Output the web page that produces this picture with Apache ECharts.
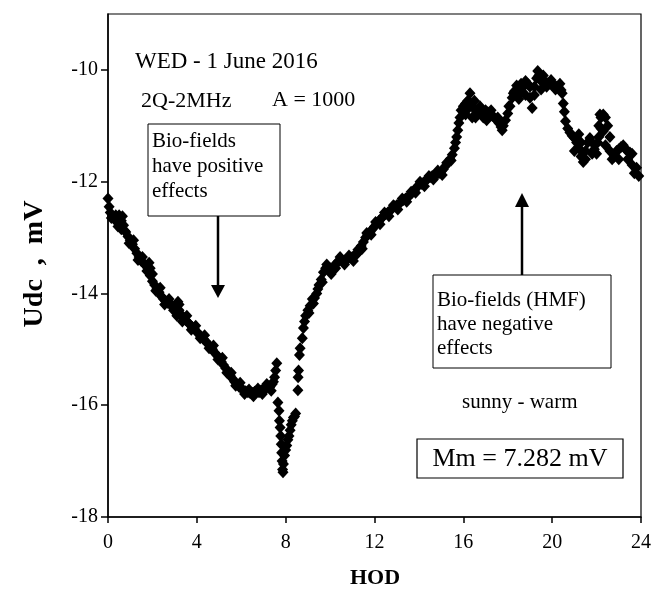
<!DOCTYPE html>
<html>
<head>
<meta charset="utf-8">
<script src="https://cdn.jsdelivr.net/npm/echarts@6/dist/echarts.min.js"></script>
<style>html,body{margin:0;padding:0;background:#fff}#c{width:671px;height:596px}</style>
</head>
<body>
<div id="c"></div>
<script>
// Hour of day (HOD) and Udc (mV) readings
var hod = [
0.0,0.05,0.1,0.2,0.3,0.4,0.5,0.5,0.6,0.6,0.7,0.8,0.9,1.0,1.1,1.2,1.3,1.4,1.5,1.6,1.7,1.8,1.9,1.9,2.0,2.0,2.1,2.2,2.3,2.4,2.5,2.6,2.7,2.8,2.9,3.0,3.1,3.1,3.2,3.2,3.3,3.4,3.5,3.6,3.7,3.8,3.9,
4.0,4.1,4.2,4.3,4.4,4.5,4.6,4.7,4.8,4.9,5.0,5.1,5.2,5.3,5.4,5.5,5.6,5.7,5.8,5.9,6.0,6.1,6.2,6.3,6.4,6.5,6.6,6.7,6.8,6.9,7.0,7.1,7.2,7.3,7.4,7.45,7.5,7.55,7.6,
7.65,7.7,7.72,7.75,7.78,7.8,7.82,7.84,7.86,7.88,7.9,7.95,8.0,8.05,8.1,8.15,8.2,8.25,8.3,8.35,8.4,8.45,
8.55,8.56,8.58,8.62,8.65,8.75,8.8,8.85,8.9,9.0,9.1,9.2,9.3,9.4,9.5,9.6,9.7,9.8,9.9,10.0,10.1,10.2,10.3,10.4,10.5,10.6,10.7,10.8,10.9,11.0,11.1,11.2,11.3,11.4,11.5,11.6,11.7,11.8,11.9,
12.0,12.1,12.2,12.3,12.4,12.5,12.6,12.7,12.8,12.9,13.0,13.1,13.2,13.3,13.4,13.5,13.6,13.7,13.8,13.9,14.0,14.1,14.2,14.3,14.4,14.5,14.6,14.7,14.8,14.9,15.0,15.1,15.2,15.3,15.4,15.5,
15.6,15.65,15.7,15.75,15.8,15.85,15.9,16.0,16.1,16.1,16.2,16.2,16.3,16.35,16.4,16.4,16.5,16.5,16.6,16.7,16.8,16.9,16.9,17.0,17.0,17.1,17.2,17.3,17.4,17.5,17.6,17.7,17.8,17.9,
18.0,18.1,18.2,18.3,18.4,18.5,18.5,18.6,18.6,18.7,18.8,18.8,18.9,19.0,19.0,19.1,19.2,19.2,19.3,19.35,19.4,19.5,19.5,19.6,19.6,19.7,19.8,19.9,20.0,20.1,20.2,20.3,20.4,20.45,
20.5,20.55,20.6,20.7,20.8,20.9,21.0,21.0,21.1,21.2,21.2,21.3,21.3,21.4,21.5,21.5,21.6,21.7,21.8,21.8,21.9,22.0,22.05,22.1,22.1,22.15,22.2,22.2,22.3,22.3,22.4,22.4,22.5,22.6,22.6,22.7,
22.8,22.9,23.0,23.0,23.1,23.2,23.3,23.4,23.4,23.5,23.6,23.6,23.7,23.8,23.9,
0.15,0.35,0.45,0.65,0.75,0.95,1.15,1.35,1.55,1.75,1.85,2.15,2.35,2.55,2.75,2.95,3.15,3.35,3.55,3.75,3.95,4.15,4.35,4.55,4.75,4.95,5.15,5.35,5.55,5.75,5.95,6.15,6.35,6.55,6.75,6.95,7.15,7.35,
9.05,9.25,9.45,9.65,9.85,10.05,10.25,10.45,10.65,10.85,11.05,11.25,11.45,11.65,11.85,12.05,12.25,12.45,12.65,12.85,13.05,13.25,13.45,13.65,13.85,14.05,14.25,14.45,14.65,14.85,15.05,15.25,15.45,
16.55,16.75,17.05,17.25,17.55,17.75,18.05,18.25,18.45,19.75,19.95,20.15,20.35
];
var udc = [
-12.30,-12.45,-12.55,-12.62,-12.68,-12.70,-12.72,-12.60,-12.70,-12.85,-12.78,-12.90,-12.98,-13.05,-13.12,-13.20,-13.28,-13.35,-13.42,-13.46,-13.50,-13.55,-13.68,-13.55,-13.78,-13.65,-13.85,-13.92,-13.98,-14.05,-14.10,-14.14,-14.17,-14.20,-14.22,-14.25,-14.24,-14.40,-14.30,-14.20,-14.38,-14.43,-14.48,-14.52,-14.56,-14.60,-14.64,
-14.69,-14.73,-14.77,-14.82,-14.86,-14.90,-14.95,-15.00,-15.06,-15.10,-15.15,-15.22,-15.28,-15.34,-15.40,-15.47,-15.52,-15.58,-15.62,-15.67,-15.70,-15.73,-15.75,-15.77,-15.78,-15.78,-15.76,-15.75,-15.77,-15.73,-15.72,-15.70,-15.68,-15.67,-15.62,-15.58,-15.50,-15.38,-15.25,
-15.95,-16.10,-16.28,-16.40,-16.55,-16.70,-16.85,-17.00,-17.15,-17.20,-17.05,-16.90,-16.80,-16.72,-16.62,-16.55,-16.45,-16.35,-16.28,-16.22,-16.20,-16.15,
-15.73,-15.50,-15.38,-15.10,-14.98,-14.80,-14.62,-14.50,-14.40,-14.30,-14.22,-14.10,-14.08,-14.00,-13.85,-13.75,-13.62,-13.55,-13.52,-13.55,-13.60,-13.50,-13.45,-13.42,-13.40,-13.42,-13.40,-13.38,-13.36,-13.35,-13.32,-13.30,-13.25,-13.15,-13.08,-13.00,-12.95,-12.90,-12.85,
-12.80,-12.74,-12.70,-12.66,-12.62,-12.58,-12.55,-12.52,-12.48,-12.44,-12.42,-12.40,-12.36,-12.33,-12.30,-12.28,-12.24,-12.20,-12.15,-12.10,-12.06,-12.04,-12.02,-11.98,-11.95,-11.92,-11.90,-11.88,-11.86,-11.85,-11.82,-11.78,-11.72,-11.66,-11.60,-11.52,
-11.40,-11.30,-11.20,-11.08,-10.95,-10.85,-10.72,-10.65,-10.60,-10.80,-10.55,-10.70,-10.42,-10.60,-10.65,-10.85,-10.70,-10.55,-10.72,-10.75,-10.72,-10.75,-10.85,-10.78,-10.72,-10.76,-10.80,-10.82,-10.85,-10.90,-10.95,-11.02,-11.00,-10.90,
-10.78,-10.65,-10.50,-10.38,-10.28,-10.35,-10.52,-10.40,-10.25,-10.30,-10.20,-10.45,-10.25,-10.50,-10.30,-10.68,-10.45,-10.30,-10.15,-10.02,-10.10,-10.20,-10.35,-10.22,-10.10,-10.22,-10.24,-10.25,-10.27,-10.28,-10.30,-10.32,-10.36,-10.42,
-10.60,-10.75,-10.92,-11.05,-11.12,-11.18,-11.22,-11.45,-11.30,-11.40,-11.15,-11.55,-11.30,-11.65,-11.45,-11.60,-11.30,-11.22,-11.30,-11.50,-11.42,-11.50,-11.30,-11.00,-11.20,-10.80,-10.85,-11.05,-10.80,-11.10,-10.85,-11.35,-11.00,-11.20,-11.45,-11.60,
-11.55,-11.45,-11.42,-11.60,-11.38,-11.35,-11.42,-11.45,-11.60,-11.48,-11.70,-11.50,-11.85,-11.75,-11.90,
-12.65,-12.60,-12.80,-12.62,-12.88,-13.10,-13.05,-13.40,-13.35,-13.60,-13.45,-13.95,-13.90,-14.20,-14.10,-14.30,-14.15,-14.50,-14.40,-14.65,-14.58,-14.80,-14.75,-14.98,-14.93,-15.18,-15.15,-15.42,-15.42,-15.65,-15.60,-15.80,-15.72,-15.84,-15.70,-15.80,-15.62,-15.74,
-14.35,-14.18,-13.92,-13.80,-13.48,-13.65,-13.55,-13.35,-13.48,-13.32,-13.42,-13.22,-13.20,-12.92,-12.95,-12.72,-12.76,-12.55,-12.62,-12.42,-12.50,-12.30,-12.36,-12.18,-12.20,-12.00,-12.08,-11.90,-11.96,-11.80,-11.88,-11.66,-11.62,
-10.85,-10.65,-10.90,-10.72,-10.85,-11.08,-10.65,-10.42,-10.45,-10.30,-10.18,-10.35,-10.25
];
var xTicks = [0, 4, 8, 12, 16, 20, 24];
var yTicks = [-18, -16, -14, -12, -10];

var points = hod.map(function (h, i) { return [h, udc[i]]; });

var serif = '"Liberation Serif", "Times New Roman", serif';
var chart = echarts.init(document.getElementById('c'), null, {renderer: 'canvas'});
chart.setOption({
  animation: false,
  backgroundColor: '#fff',
  grid: {left: 108, top: 14, right: 30, bottom: 79, show: true, borderColor: '#000', borderWidth: 1.2, containLabel: false},
  xAxis: {
    type: 'value', min: 0, max: 24, interval: 4,
    axisLine: {lineStyle: {color: '#000', width: 1.5}},
    axisTick: {show: true, length: 6, inside: false, lineStyle: {color: '#000', width: 1.5}, customValues: xTicks},
    axisLabel: {color: '#000', fontFamily: serif, fontSize: 20, margin: 16, customValues: xTicks},
    splitLine: {show: false}
  },
  yAxis: {
    type: 'value', min: -18, max: -9, interval: 2,
    axisLine: {show: true, lineStyle: {color: '#000', width: 1.5}},
    axisTick: {show: true, length: 7, inside: false, lineStyle: {color: '#000', width: 1.5}, customValues: yTicks},
    axisLabel: {color: '#000', fontFamily: serif, fontSize: 20, margin: 10, customValues: yTicks},
    splitLine: {show: false}
  },
  series: [{
    type: 'scatter',
    data: points,
    symbol: 'diamond',
    symbolSize: [11, 12],
    itemStyle: {color: '#000', opacity: 1},
    silent: true
  }],
  graphic: [
    {type: 'text', x: 35, y: 264, rotation: Math.PI / 2, style: {text: 'Udc  ,  mV', font: 'bold 28px ' + serif, fill: '#000', textAlign: 'center', textVerticalAlign: 'middle'}},
    {type: 'text', x: 375, y: 578, style: {text: 'HOD', font: 'bold 22px ' + serif, fill: '#000', textAlign: 'center', textVerticalAlign: 'middle'}},
    {type: 'text', x: 135, y: 62, style: {text: 'WED - 1 June 2016', font: '23px ' + serif, fill: '#000', textAlign: 'left', textVerticalAlign: 'middle'}},
    {type: 'text', x: 141, y: 101, style: {text: '2Q-2MHz', font: '22px ' + serif, fill: '#000', textAlign: 'left', textVerticalAlign: 'middle'}},
    {type: 'text', x: 272, y: 100, style: {text: 'A = 1000', font: '22px ' + serif, fill: '#000', textAlign: 'left', textVerticalAlign: 'middle'}},
    {type: 'rect', shape: {x: 148, y: 124, width: 132, height: 92}, style: {fill: '#fff', stroke: '#000', lineWidth: 1}},
    {type: 'text', x: 152, y: 129, style: {text: 'Bio-fields\nhave positive\neffects', font: '21px ' + serif, lineHeight: 25, fill: '#000', textAlign: 'left', textVerticalAlign: 'top'}},
    {type: 'line', shape: {x1: 218, y1: 216, x2: 218, y2: 287}, style: {stroke: '#000', lineWidth: 2.5}},
    {type: 'polygon', shape: {points: [[211, 285], [225, 285], [218, 298]]}, style: {fill: '#000'}},
    {type: 'line', shape: {x1: 522, y1: 205, x2: 522, y2: 275}, style: {stroke: '#000', lineWidth: 2.5}},
    {type: 'polygon', shape: {points: [[515, 207], [529, 207], [522, 193]]}, style: {fill: '#000'}},
    {type: 'rect', shape: {x: 433, y: 275, width: 178, height: 93}, style: {fill: '#fff', stroke: '#000', lineWidth: 1}},
    {type: 'text', x: 437, y: 288, style: {text: 'Bio-fields (HMF)\nhave negative\neffects', font: '21px ' + serif, lineHeight: 24, fill: '#000', textAlign: 'left', textVerticalAlign: 'top'}},
    {type: 'text', x: 462, y: 402, style: {text: 'sunny - warm', font: '21px ' + serif, fill: '#000', textAlign: 'left', textVerticalAlign: 'middle'}},
    {type: 'rect', shape: {x: 417, y: 439, width: 206, height: 39}, style: {fill: '#fff', stroke: '#000', lineWidth: 1.2}},
    {type: 'text', x: 520, y: 459, style: {text: 'Mm = 7.282 mV', font: '26px ' + serif, fill: '#000', textAlign: 'center', textVerticalAlign: 'middle'}}
  ]
});
</script>
</body>
</html>
